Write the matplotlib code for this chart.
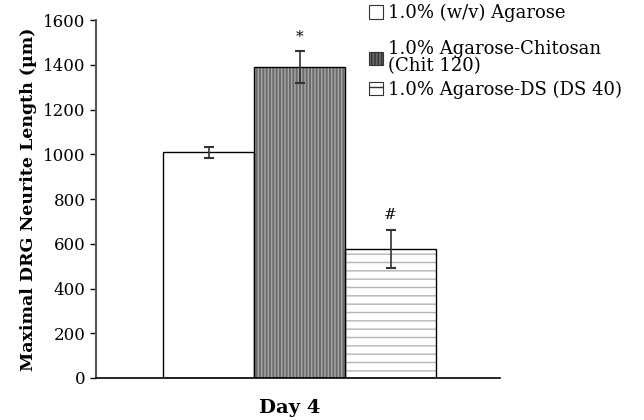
import matplotlib.pyplot as plt
import matplotlib.patches as mpatches

# data
groups = ['1.0% (w/v) Agarose', '1.0% Agarose-Chitosan\n(Chit 120)', '1.0% Agarose-DS (DS 40)']
means = [1010, 1390, 578]
errs = [25, 70, 85]
marks = ['', '*', '#']
yticks = [0, 200, 400, 600, 800, 1000, 1200, 1400, 1600]

plt.rcParams['font.family'] = ['DejaVu Serif']

fig = plt.figure(figsize=(6.44, 4.2), dpi=100)
ax = fig.add_axes([0.149, 0.1, 0.627, 0.852])

x = [0, 1, 2]
w = 1.0
faces = ['white', '#6a6a6a', 'white']
hatches = [None, '|||||', '--']
hcols = ['white', '#a8a8a8', '#b4b4b4']

handles = []
for i in range(3):
    ax.bar(x[i], means[i], width=w, color=faces[i], hatch=hatches[i],
           edgecolor=hcols[i], linewidth=0, zorder=2)
    ax.bar(x[i], means[i], width=w, fill=False, edgecolor='black', linewidth=1, zorder=3)
    handles.append(mpatches.Patch(facecolor=faces[i], hatch=hatches[i],
                                  edgecolor='#333333', linewidth=0.8))

ax.errorbar(x, means, yerr=errs, fmt='none', ecolor='#333333', elinewidth=1.2,
            capsize=3.5, capthick=1.5, zorder=4)

for i in range(3):
    if marks[i]:
        ax.text(x[i], means[i] + errs[i] + 65, marks[i], ha='center', va='center',
                fontsize=11)

ax.set_xlim(-1.24, 3.2)
ax.set_ylim(0, 1600)
ax.set_yticks(yticks)
ax.tick_params(axis='y', labelsize=12, direction='out', length=4, width=1)
ax.set_xticks([])
ax.spines['top'].set_visible(False)
ax.spines['right'].set_visible(False)
ax.spines['left'].set_color('#555555')
ax.spines['left'].set_linewidth(1.5)
ax.spines['bottom'].set_linewidth(1.2)
ax.set_ylabel('Maximal DRG Neurite Length (µm)', fontsize=12.5, fontweight='bold')
ax.set_xlabel('Day 4', fontsize=14, fontweight='bold')
ax.xaxis.set_label_coords(0.48, -0.06)

# legend: first entry alone, then the other two closer together
leg_kw = dict(frameon=False, fontsize=13, handlelength=0.75, handleheight=0.75,
              handletextpad=0.3, borderaxespad=0, borderpad=0,
              bbox_transform=fig.transFigure)
leg1 = ax.legend(handles[:1], groups[:1], loc='upper left',
                 bbox_to_anchor=(369 / 644, 1 - 4 / 420), **leg_kw)
ax.add_artist(leg1)
leg2 = ax.legend(handles[1:], groups[1:], loc='upper left', labelspacing=0.3,
                 bbox_to_anchor=(369 / 644, 1 - 40 / 420), **leg_kw)
for t in leg2.get_texts():
    t.set_linespacing(0.95)

fig.savefig('out.png', dpi=100)
